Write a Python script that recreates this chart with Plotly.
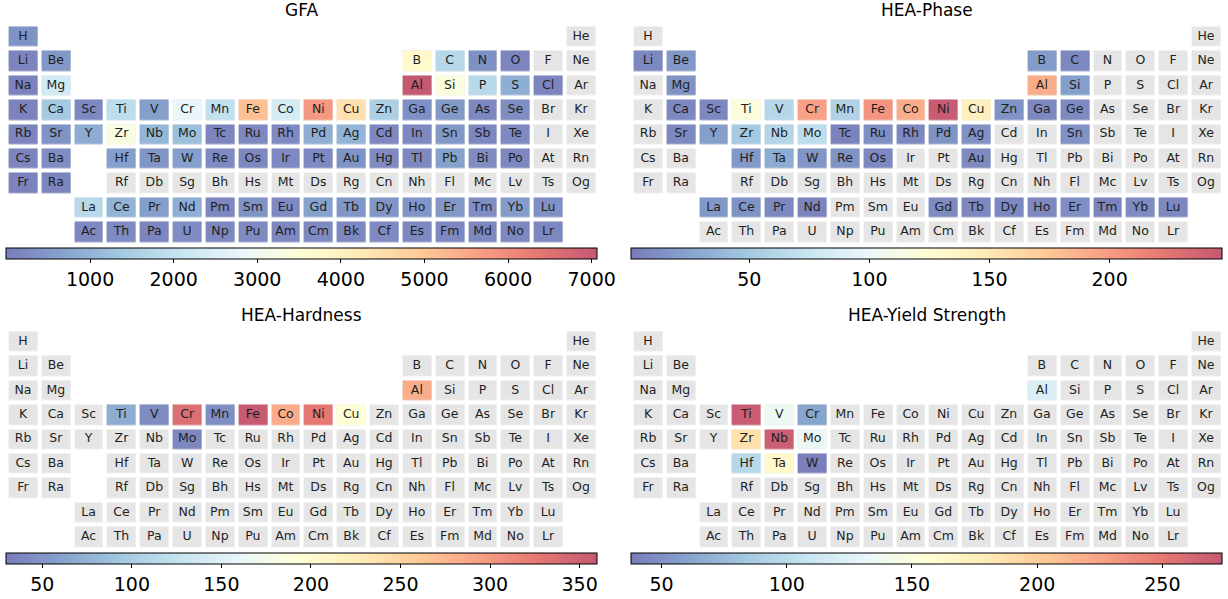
import numpy as np
import plotly.graph_objects as go

# ---------------- data ----------------
table_rows = [
    ["H", "", "", "", "", "", "", "", "", "", "", "", "", "", "", "", "", "He"],
    ["Li", "Be", "", "", "", "", "", "", "", "", "", "", "B", "C", "N", "O", "F", "Ne"],
    ["Na", "Mg", "", "", "", "", "", "", "", "", "", "", "Al", "Si", "P", "S", "Cl", "Ar"],
    ["K", "Ca", "Sc", "Ti", "V", "Cr", "Mn", "Fe", "Co", "Ni", "Cu", "Zn", "Ga", "Ge", "As", "Se", "Br", "Kr"],
    ["Rb", "Sr", "Y", "Zr", "Nb", "Mo", "Tc", "Ru", "Rh", "Pd", "Ag", "Cd", "In", "Sn", "Sb", "Te", "I", "Xe"],
    ["Cs", "Ba", "", "Hf", "Ta", "W", "Re", "Os", "Ir", "Pt", "Au", "Hg", "Tl", "Pb", "Bi", "Po", "At", "Rn"],
    ["Fr", "Ra", "", "Rf", "Db", "Sg", "Bh", "Hs", "Mt", "Ds", "Rg", "Cn", "Nh", "Fl", "Mc", "Lv", "Ts", "Og"],
    ["", "", "La", "Ce", "Pr", "Nd", "Pm", "Sm", "Eu", "Gd", "Tb", "Dy", "Ho", "Er", "Tm", "Yb", "Lu", ""],
    ["", "", "Ac", "Th", "Pa", "U", "Np", "Pu", "Am", "Cm", "Bk", "Cf", "Es", "Fm", "Md", "No", "Lr", ""],
]

panel_titles = ["GFA", "HEA-Phase", "HEA-Hardness", "HEA-Yield Strength"]

gfa_values = {
    "H": 400, "Li": 150, "Be": 500, "B": 3750, "C": 1770, "N": 350, "O": 150,
    "Na": 100, "Mg": 2300, "Al": 7060, "Si": 3400, "P": 1800, "S": 900, "Cl": 150,
    "K": 100, "Ca": 1400, "Sc": 200, "Ti": 1900, "V": 600, "Cr": 2800, "Mn": 2000,
    "Fe": 5100, "Co": 2350, "Ni": 5800, "Cu": 4450, "Zn": 1550, "Ga": 350, "Ge": 500,
    "As": 200, "Se": 300,
    "Rb": 150, "Sr": 400, "Y": 850, "Zr": 3300, "Nb": 1050, "Mo": 1200, "Tc": 150,
    "Ru": 200, "Rh": 250, "Pd": 900, "Ag": 1000, "Cd": 200, "In": 200, "Sn": 500,
    "Sb": 200, "Te": 250,
    "Cs": 150, "Ba": 300, "Hf": 600, "Ta": 450, "W": 600, "Re": 250, "Os": 200,
    "Ir": 250, "Pt": 250, "Au": 400, "Hg": 250, "Tl": 200, "Pb": 650, "Bi": 300, "Po": 200,
    "Fr": 100, "Ra": 150,
    "La": 1800, "Ce": 1000, "Pr": 600, "Nd": 900, "Pm": 200, "Sm": 400, "Eu": 250,
    "Gd": 650, "Tb": 450, "Dy": 450, "Ho": 450, "Er": 500, "Tm": 300, "Yb": 550, "Lu": 350,
    "Ac": 200, "Th": 250, "Pa": 150, "U": 300, "Np": 200, "Pu": 250, "Am": 200,
    "Cm": 250, "Bk": 200, "Cf": 250, "Es": 200, "Fm": 200, "Md": 200, "No": 200, "Lr": 200,
}

phase_values = {
    "Li": 8, "Be": 18, "B": 20, "C": 8, "Mg": 15, "Al": 190, "Si": 22,
    "Ca": 8, "Sc": 8, "Ti": 119, "V": 62, "Cr": 197, "Mn": 57, "Fe": 205, "Co": 190,
    "Ni": 245, "Cu": 143, "Zn": 15, "Ga": 8, "Ge": 10,
    "Sr": 8, "Y": 22, "Zr": 50, "Nb": 60, "Mo": 67, "Tc": 5, "Ru": 12, "Rh": 8,
    "Pd": 15, "Ag": 14, "Sn": 14,
    "Hf": 18, "Ta": 30, "W": 16, "Re": 15, "Os": 8, "Au": 10,
    "La": 18, "Ce": 15, "Pr": 8, "Nd": 6, "Gd": 10, "Tb": 8, "Dy": 8, "Ho": 8,
    "Er": 12, "Tm": 6, "Yb": 10, "Lu": 8,
}

hardness_values = {
    "Al": 284, "Ti": 70, "V": 43, "Cr": 337, "Mn": 45, "Fe": 358, "Co": 285,
    "Ni": 327, "Cu": 195, "Mo": 40,
}

yield_values = {
    "Al": 120, "Ti": 272, "V": 137, "Cr": 62, "Zr": 187, "Nb": 270, "Mo": 135,
    "Hf": 97, "Ta": 163, "W": 40,
}

color_ranges = [(0, 7070), (1, 247), (30, 360), (38, 274)]
tick_values = [
    [1000, 2000, 3000, 4000, 5000, 6000, 7000],
    [50, 100, 150, 200],
    [50, 100, 150, 200, 250, 300, 350],
    [50, 100, 150, 200, 250],
]

# ---------------- styling ----------------
W, H = 1228, 599
rdylbu_r = ["#313695", "#4575b4", "#74add1", "#abd9e9", "#e0f3f8", "#ffffbf",
            "#fee090", "#fdae61", "#f46d43", "#d73027", "#a50026"]
alpha = 0.65


def blend(hexc):
    r, g, b = (int(hexc[i:i + 2], 16) for i in (1, 3, 5))
    f = lambda c: round(alpha * c + (1 - alpha) * 255)
    return f"rgb({f(r)},{f(g)},{f(b)})"


cscale = [[i / (len(rdylbu_r) - 1), blend(c)] for i, c in enumerate(rdylbu_r)]
gray = "rgb(229,229,229)"

# panel geometry in pixels
panel_x0 = [6.6, 631.6, 6.6, 631.6]
panel_w = 590.8
panel_ytop = [24.5, 24.5, 329.5, 329.5]
panel_h = 219.5
cbar_gap = 3.5
title_y = [10, 10, 315, 315]

value_sets = [gfa_values, phase_values, hardness_values, yield_values]

n_rows, n_cols = len(table_rows), len(table_rows[0])
cols = list(range(1, n_cols + 1))
rows = list(range(1, n_rows + 1))

sym_x, sym_y, sym_t = [], [], []
exists = np.full((n_rows, n_cols), np.nan)
for r, row in enumerate(table_rows):
    for c, s in enumerate(row):
        if s:
            sym_x.append(c + 1)
            sym_y.append(r + 1)
            sym_t.append(s)
            exists[r, c] = 1

fig = go.Figure()
layout = dict()
annotations = []

for p in range(4):
    vals = value_sets[p]
    z = np.full((n_rows, n_cols), np.nan)
    for r, row in enumerate(table_rows):
        for c, s in enumerate(row):
            if s and s in vals:
                z[r, c] = vals[s]
    ax = "" if p == 0 else str(p + 1)
    xa, ya = "x" + ax, "y" + ax
    ca = "coloraxis" + ax

    fig.add_trace(go.Heatmap(
        x=cols, y=rows, z=exists, colorscale=[[0, gray], [1, gray]],
        showscale=False, xgap=4, ygap=4.4, hoverinfo="skip",
        xaxis=xa, yaxis=ya))
    fig.add_trace(go.Heatmap(
        x=cols, y=rows, z=z, coloraxis=ca, xgap=4, ygap=4.4,
        xaxis=xa, yaxis=ya))
    fig.add_trace(go.Scatter(
        x=sym_x, y=sym_y, text=sym_t, mode="text",
        textfont=dict(family="DejaVu Sans", size=12.5, color="#1f1f1f"),
        hoverinfo="skip", showlegend=False, xaxis=xa, yaxis=ya))

    x0 = panel_x0[p] / W
    x1 = (panel_x0[p] + panel_w) / W
    y1 = 1 - panel_ytop[p] / H
    y0 = 1 - (panel_ytop[p] + panel_h) / H
    layout["xaxis" + ax] = dict(domain=[x0, x1], range=[0.5, n_cols + 0.5],
                                visible=False, fixedrange=True)
    layout["yaxis" + ax] = dict(domain=[y0, y1], range=[n_rows + 0.5, 0.5],
                                visible=False, fixedrange=True)
    cmin, cmax = color_ranges[p]
    layout[ca] = dict(
        colorscale=cscale, cmin=cmin, cmax=cmax,
        colorbar=dict(
            orientation="h", x=(x0 + x1) / 2, xanchor="center",
            y=1 - (panel_ytop[p] + panel_h + cbar_gap) / H, yanchor="top",
            len=panel_w / W, lenmode="fraction", thickness=11,
            xpad=0, ypad=0, outlinewidth=1, outlinecolor="black",
            ticks="outside", ticklen=4, tickwidth=1, tickcolor="black",
            tickvals=tick_values[p],
            tickfont=dict(family="DejaVu Sans", size=19, color="black"),
        ))
    annotations.append(dict(
        x=(x0 + x1) / 2, y=1 - title_y[p] / H, xref="paper", yref="paper",
        text=panel_titles[p], showarrow=False, xanchor="center", yanchor="middle",
        font=dict(family="DejaVu Sans", size=17, color="black")))

fig.update_layout(
    width=W, height=H, margin=dict(l=0, r=0, t=0, b=0),
    plot_bgcolor="white", paper_bgcolor="white",
    showlegend=False, annotations=annotations, **layout)

fig.write_html("out.html", config={"displayModeBar": False},
               post_script="document.body.style.margin='0px';"
                           "document.body.style.overflow='hidden';")
